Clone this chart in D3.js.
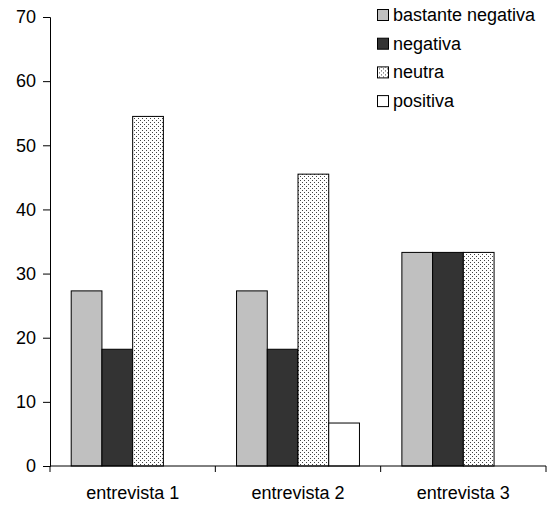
<!DOCTYPE html>
<html>
<head>
<meta charset="utf-8">
<script src="https://cdn.jsdelivr.net/npm/d3@7"></script>
<style>
  body { margin: 0; background: #fff; }
  text { font-family: "Liberation Sans", Arial, sans-serif; fill: #000; }
</style>
</head>
<body>
<svg id="chart" width="550" height="506"></svg>
<script>
// data
var categories = ["entrevista 1", "entrevista 2", "entrevista 3"];
var seriesNames = ["bastante negativa", "negativa", "neutra", "positiva"];
var bastanteNegativa = [27.3, 27.3, 33.3];
var negativa = [18.2, 18.2, 33.3];
var neutra = [54.5, 45.5, 33.3];
var positiva = [0, 6.7, 0];
var yTicks = [0, 10, 20, 30, 40, 50, 60, 70];

var values = [bastanteNegativa, negativa, neutra, positiva];
var fills = ["#c0c0c0", "#333333", "url(#dots)", "#ffffff"];

var svg = d3.select("#chart");
var mLeft = 50, mRight = 546, mTop = 17, mBottom = 466;

// dotted pattern for "neutra"
var pat = svg.append("defs").append("pattern")
  .attr("id", "dots")
  .attr("width", 4).attr("height", 4)
  .attr("patternUnits", "userSpaceOnUse");
pat.append("rect").attr("width", 4).attr("height", 4).attr("fill", "#fff");
pat.append("rect").attr("x", 0).attr("y", 0).attr("width", 1).attr("height", 1).attr("fill", "#444");
pat.append("rect").attr("x", 2).attr("y", 2).attr("width", 1).attr("height", 1).attr("fill", "#444");

var x0 = d3.scaleBand().domain(categories).range([mLeft, mRight]);
var x1 = d3.scaleBand().domain(seriesNames)
  .range([0, x0.bandwidth()])
  .paddingOuter(0.69).paddingInner(0);
var y = d3.scaleLinear().domain([0, 70]).range([mBottom, mTop]);

// bars
seriesNames.forEach(function(s, i){
  svg.append("g").selectAll("rect")
    .data(values[i].map(function(v, j){ return {cat: categories[j], v: v}; }).filter(function(d){ return d.v > 0; }))
    .enter()
    .append("rect")
      .attr("x", function(d){ return x0(d.cat) + x1(s); })
      .attr("y", function(d){ return y(d.v); })
      .attr("width", x1.bandwidth())
      .attr("height", function(d){ return mBottom - y(d.v); })
      .attr("fill", fills[i])
      .attr("stroke", "#000")
      .attr("stroke-width", 1);
});

// y axis
var yAxis = svg.append("g")
  .attr("transform", "translate(" + mLeft + ",0)")
  .call(d3.axisLeft(y).tickValues(yTicks).tickSize(7).tickPadding(7));
yAxis.selectAll("text").style("font-size", "18px");

// x axis with ticks at category boundaries
var xg = svg.append("g").attr("transform", "translate(0," + mBottom + ")");
xg.append("line").attr("x1", mLeft).attr("x2", mRight).attr("stroke", "#000");
xg.selectAll("line.tk")
  .data(categories.concat(["end"]))
  .enter().append("line")
    .attr("class", "tk")
    .attr("x1", function(d, i){ return i < categories.length ? x0(d) : mRight; })
    .attr("x2", function(d, i){ return i < categories.length ? x0(d) : mRight; })
    .attr("y1", 0).attr("y2", 6)
    .attr("stroke", "#000");
xg.selectAll("text")
  .data(categories)
  .enter().append("text")
    .attr("x", function(d){ return x0(d) + x0.bandwidth() / 2; })
    .attr("y", 33)
    .attr("text-anchor", "middle")
    .style("font-size", "18px")
    .text(function(d){ return d; });
svg.selectAll(".domain, .tick line").attr("stroke", "#000");

// legend
var lg = svg.append("g").attr("transform", "translate(377,9)");
seriesNames.forEach(function(s, i){
  var row = lg.append("g").attr("transform", "translate(0," + (i * 28.7) + ")");
  row.append("rect")
    .attr("x", 0.5).attr("y", 0.5)
    .attr("width", 11).attr("height", 11)
    .attr("fill", fills[i]).attr("stroke", "#000");
  row.append("text")
    .attr("x", 16).attr("y", 12)
    .style("font-size", "18px")
    .text(s);
});
</script>
</body>
</html>
